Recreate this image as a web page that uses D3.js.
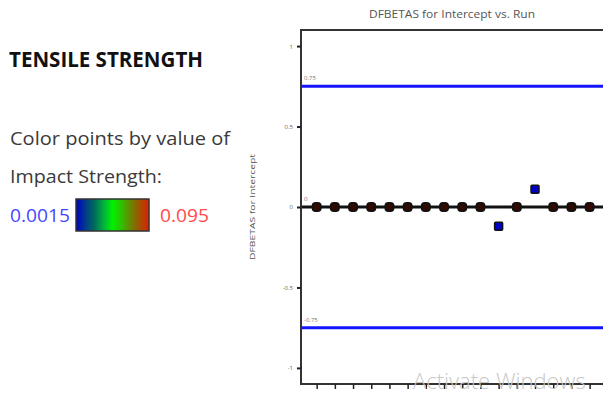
<!DOCTYPE html>
<html>
<head>
<meta charset="utf-8">
<script src="https://cdn.jsdelivr.net/npm/d3@7"></script>
<style>
  body { margin: 0; background: #fff; }
  svg { display: block; }
</style>
</head>
<body>
<div id="chart"></div>
<script>
// data
const runs = [1, 2, 3, 4, 5, 6, 7, 8, 9, 10, 11, 12, 13, 14, 15, 16]
const dfbetas = [0, 0, 0, 0, 0, 0, 0, 0, 0, 0, -0.12, 0, 0.11, 0, 0, 0]
const impact = [0.095, 0.095, 0.095, 0.095, 0.095, 0.095, 0.095, 0.095, 0.095, 0.095, 0.0015, 0.095, 0.0015, 0.095, 0.095, 0.095]
const yTicks = [-1, -0.5, 0, 0.5, 1]
const refLines = [0.75, -0.75]
const refLabels = ["0.75", "-0.75"]
const legendRange = [0.0015, 0.095]
const gradientColors = ["#0000c8", "#003a8c", "#006a5a", "#00b040", "#00f000", "#30c000", "#6a8400", "#a45000", "#dc2000"]

const width = 603, height = 394

const svg = d3.select("#chart").append("svg")
  .attr("width", width)
  .attr("height", height)

// left panel
svg.append("text")
  .attr("x", 9).attr("y", 67)
  .attr("font-family", "Open Sans").attr("font-weight", "bold")
  .attr("font-size", 21).attr("fill", "#111")
  .attr("textLength", 194).attr("lengthAdjust", "spacingAndGlyphs")
  .text("TENSILE STRENGTH")

svg.append("text")
  .attr("x", 10).attr("y", 145)
  .attr("font-family", "Open Sans").attr("font-size", 18).attr("fill", "#3a3a3a")
  .attr("textLength", 220).attr("lengthAdjust", "spacingAndGlyphs")
  .text("Color points by value of")

svg.append("text")
  .attr("x", 10).attr("y", 183)
  .attr("font-family", "Open Sans").attr("font-size", 18).attr("fill", "#3a3a3a")
  .attr("textLength", 152).attr("lengthAdjust", "spacingAndGlyphs")
  .text("Impact Strength:")

svg.append("text")
  .attr("x", 10).attr("y", 222)
  .attr("font-family", "Open Sans").attr("font-size", 18).attr("fill", "#4646ff")
  .attr("textLength", 60).attr("lengthAdjust", "spacingAndGlyphs")
  .text(legendRange[0])

svg.append("text")
  .attr("x", 160).attr("y", 222)
  .attr("font-family", "Open Sans").attr("font-size", 18).attr("fill", "#ff4a4a")
  .attr("textLength", 49).attr("lengthAdjust", "spacingAndGlyphs")
  .text(legendRange[1])

const defs = svg.append("defs")
const grad = defs.append("linearGradient")
  .attr("id", "impact-gradient")
  .attr("x1", "0%").attr("y1", "0%").attr("x2", "100%").attr("y2", "0%")
grad.selectAll("stop")
  .data(gradientColors)
  .enter().append("stop")
  .attr("offset", (d, i) => i / (gradientColors.length - 1))
  .attr("stop-color", d => d)

svg.append("rect")
  .attr("x", 76).attr("y", 199)
  .attr("width", 73).attr("height", 32)
  .attr("fill", "url(#impact-gradient)")
  .attr("stroke", "#333").attr("stroke-width", 1.5)

// color scale for points
const color = d3.scaleLinear()
  .domain(gradientColors.map((d, i) => legendRange[0] + i * (legendRange[1] - legendRange[0]) / (gradientColors.length - 1)))
  .range(gradientColors)

// plot
const plot = { left: 301, top: 30, bottom: 384, right: 626 }

const x = d3.scaleLinear().domain([0.14, 18]).range([plot.left, plot.right])
const y = d3.scaleLinear().domain([-1.1, 1.1]).range([plot.bottom, plot.top])

svg.append("text")
  .attr("x", 452).attr("y", 18)
  .attr("text-anchor", "middle")
  .attr("font-family", "Open Sans").attr("font-size", 10).attr("fill", "#555")
  .attr("textLength", 166).attr("lengthAdjust", "spacingAndGlyphs")
  .text("DFBETAS for Intercept vs. Run")

svg.append("text")
  .attr("transform", "translate(255," + y(0) + ") rotate(-90)")
  .attr("text-anchor", "middle")
  .attr("font-family", "Open Sans").attr("font-size", 7).attr("fill", "#555")
  .attr("textLength", 106).attr("lengthAdjust", "spacingAndGlyphs")
  .text("DFBETAS for Intercept")

// reference lines
svg.selectAll(".ref")
  .data(refLines)
  .enter().append("line")
  .attr("x1", plot.left).attr("x2", plot.right)
  .attr("y1", d => y(d)).attr("y2", d => y(d))
  .attr("stroke", "#1414ff").attr("stroke-width", 3)

svg.selectAll(".refLabel")
  .data(refLines)
  .enter().append("text")
  .attr("x", plot.left + 3).attr("y", d => y(d) - 6)
  .attr("font-family", "Open Sans").attr("font-size", 6).attr("fill", "#777")
  .text((d, i) => refLabels[i])

// zero line
svg.append("line")
  .attr("x1", plot.left).attr("x2", plot.right)
  .attr("y1", y(0)).attr("y2", y(0))
  .attr("stroke", "#111").attr("stroke-width", 3)
svg.append("text")
  .attr("x", plot.left + 3).attr("y", y(0) - 6)
  .attr("font-family", "Open Sans").attr("font-size", 6).attr("fill", "#777")
  .text("0")

// frame
svg.append("rect")
  .attr("x", plot.left).attr("y", plot.top)
  .attr("width", plot.right - plot.left).attr("height", plot.bottom - plot.top)
  .attr("fill", "none").attr("stroke", "#333").attr("stroke-width", 2)

// axes
const yAxis = d3.axisLeft(y).tickValues(yTicks).tickSize(4).tickPadding(4)
  .tickFormat(d => d)
const gy = svg.append("g")
  .attr("transform", "translate(" + plot.left + ",0)")
  .call(yAxis)
gy.select(".domain").remove()
gy.selectAll(".tick line").attr("stroke", "#222").attr("stroke-width", 2)
gy.selectAll(".tick text").attr("font-family", "Open Sans").attr("font-size", 6).attr("fill", "#666")

const xAxis = d3.axisBottom(x).tickValues(runs).tickSize(5).tickFormat("")
const gx = svg.append("g")
  .attr("transform", "translate(0," + plot.bottom + ")")
  .call(xAxis)
gx.select(".domain").remove()
gx.selectAll(".tick line").attr("stroke", "#222").attr("stroke-width", 1.5)

// points
const pts = runs.map((r, i) => ({ run: r, v: dfbetas[i], imp: impact[i] }))
svg.selectAll(".pt")
  .data(pts)
  .enter().append("rect")
  .attr("x", d => x(d.run) - 4)
  .attr("y", d => y(d.v) - 4)
  .attr("width", 8)
  .attr("height", 8)
  .attr("rx", d => d.v === 0 ? 3 : 1)
  .attr("fill", d => d.v === 0 ? d3.color(color(d.imp)).darker(4) : color(d.imp))
  .attr("stroke", "#111")
  .attr("stroke-width", d => d.v === 0 ? 2 : 1.5)

// watermark over the plot
svg.append("text")
  .attr("x", 413).attr("y", 389)
  .attr("font-family", "Open Sans").attr("font-size", 22).attr("fill", "#c8c8c8")
  .attr("font-weight", 300)
  .text("Activate Windows")
</script>
</body>
</html>
